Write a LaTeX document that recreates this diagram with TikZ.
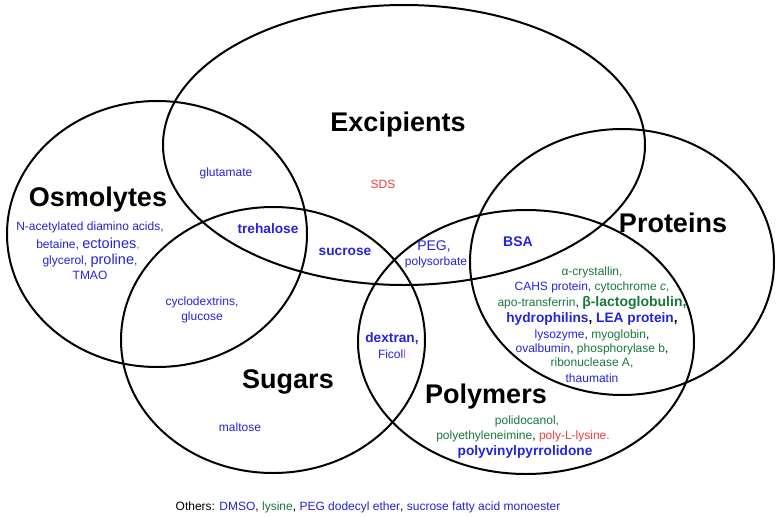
\documentclass[tikz,border=0pt]{standalone}
\usepackage{fontspec}
\setmainfont{Liberation Sans}
\definecolor{tb}{RGB}{35,35,225}
\definecolor{tg}{RGB}{25,120,60}
\definecolor{tr}{RGB}{245,60,60}
\definecolor{tbr}{RGB}{180,110,40}
\definecolor{tm}{RGB}{220,80,200}
\tikzset{
  venn/.style={draw=black,line width=2pt},
  big/.style={inner sep=0pt,font=\fontsize{27}{30}\selectfont\bfseries,text=black},
  sm/.style={inner sep=0pt,font=\fontsize{12}{14}\selectfont,text=tb},
  md/.style={inner sep=0pt,font=\fontsize{14}{16}\selectfont,text=tb},
  bd/.style={inner sep=0pt,font=\fontsize{13.7}{16}\selectfont\bfseries,text=tb}
}
\newcommand{\cb}[1]{\textcolor{tb}{#1}}
\newcommand{\cg}[1]{\textcolor{tg}{#1}}
\newcommand{\cbk}[1]{\textcolor{black}{#1}}
\begin{document}
\begin{tikzpicture}[x=1pt,y=-1pt]
\useasboundingbox[fill=white] (0,0) rectangle (780,517);
% ellipses
\draw[venn] (404,145) ellipse [x radius=241pt, y radius=140pt];
\draw[venn] (157,234) ellipse [x radius=150pt, y radius=133pt];
\draw[venn] (273,340) ellipse [x radius=152pt, y radius=133pt];
\draw[venn] (622,262) ellipse [x radius=152pt, y radius=133pt];
\draw[venn] (526,342) ellipse [x radius=168pt, y radius=132pt];
% labels
\node[big] (exc) at (398,125) {Excipients};
\node[big] (osm) at (98,200) {Osmolytes};
\node[big] (sug) at (288,382) {Sugars};
\node[big] (pro) at (673,223) {Proteins};
\node[big] (pol) at (486,397) {Polymers};
% excipients
\node[sm,text=tr] (sds) at (383,184) {SDS};
% osmolytes
\node[sm] (o1) at (90,227) {N-acetylated diamino acids,};
\node[sm] (o2) at (88,244) {betaine, {\fontsize{14.5}{16}\selectfont ectoines}\textcolor{tbr}{,}};
\node[sm] (o3) at (90,261) {glycerol, {\fontsize{14.5}{16}\selectfont proline},};
\node[sm] (o4) at (90,275) {TMAO};
\node[sm] (glu) at (226,173) {glutamate};
\node[bd] (tre) at (268,229) {trehalose};
\node[bd] (suc) at (345,252) {sucrose};
\node[sm] (cy1) at (202,302) {cyclodextrins,};
\node[sm] (cy2) at (202,317) {glucose};
\node[sm] (mal) at (240,427) {maltose};
\node[md] (peg) at (434,247) {PEG,};
\node[sm] (pso) at (436,262) {polysorbate};
\node[bd,font=\fontsize{14}{16}\selectfont\bfseries] (bsa) at (518,242) {BSA};
\node[bd] (dex) at (392,339) {dextran,};
\node[sm] (fic) at (392,354) {Fico\textcolor{tb}{l}\textcolor{tm}{l}};
% proteins
\node[sm,text=tg] (p1) at (592,272) {α-crystallin,};
\node[sm] (p2) at (592,287) {\cb{CAHS protein,} \cg{cytochrome \textit{c},}};
\node[sm] (p3) at (592,303) {\cg{apo-transferrin}\cbk{,} \cg{\fontsize{14}{16}\selectfont\bfseries β-lactoglobulin,}};
\node[bd] (p4) at (592,319) {hydrophilins\cbk{,} LEA protein\cbk{,}};
\node[sm] (p5) at (592,335) {\cb{lysozyme}\cbk{,} \cg{myoglobin}\cbk{,}};
\node[sm] (p6) at (592,349) {\cb{ovalbumin}\cbk{,} \cg{phosphorylase b}\cbk{,}};
\node[sm,text=tg] (p7) at (592,363) {ribonuclease A,};
\node[sm] (p8) at (592,378) {thaumatin};
% polymers
\node[sm,text=tg] (y1) at (527,421) {polidocanol,};
\node[sm] (y2) at (523,436) {\cg{polyethyleneimine}\cbk{,} \textcolor{tr}{poly-L-lysine.}};
\node[bd] (y3) at (525,452) {polyvinylpyrrolidone};
% others
\node[sm] (oth) at (368,507) {\cbk{Others:} \cb{DMSO}\cbk{,} \cg{lysine}\cbk{,} \cb{PEG dodecyl ether}\cbk{,} \cb{sucrose fatty acid monoester}};
\end{tikzpicture}
\end{document}
